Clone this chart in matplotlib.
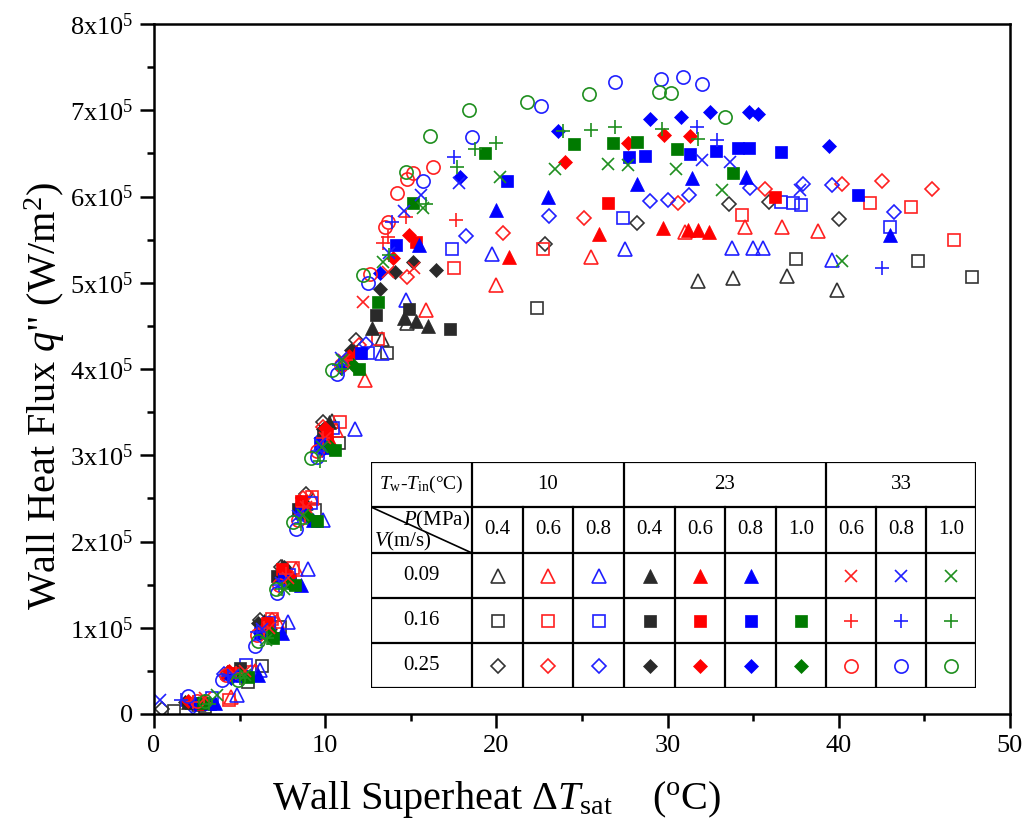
"""Boiling curves: wall heat flux vs wall superheat, with condition table."""

import numpy as np
import matplotlib
matplotlib.use("Agg")
import matplotlib.pyplot as plt
from matplotlib.ticker import MultipleLocator, FuncFormatter

plt.rcParams["font.family"] = ["Liberation Serif", "DejaVu Serif"]
plt.rcParams["mathtext.fontset"] = "custom"
plt.rcParams["mathtext.rm"] = "Liberation Serif"
plt.rcParams["mathtext.it"] = "Liberation Serif:italic"

# ── Data: (wall superheat [°C], heat flux [x1e5 W/m2]) ────────────
# Tw-Tin = 10 °C
s10_p04_v009 = [(2.6, 0.12), (5.2, 0.50), (6.8, 1.05), (7.9, 1.65), (8.9, 2.45), (10.4, 3.40),
                (13.3, 4.35), (14.8, 4.53), (31.75, 5.02), (33.8, 5.05), (37.0, 5.08), (39.9, 4.92)]
s10_p06_v009 = [(4.5, 0.20), (5.9, 0.50), (7.2, 1.08), (8.3, 1.68), (9.2, 2.50), (10.65, 3.29),
                (12.35, 3.87), (15.9, 4.68), (20.0, 4.97), (25.5, 5.30), (31.0, 5.59), (34.5, 5.65),
                (36.7, 5.65), (38.8, 5.60)]
s10_p08_v009 = [(4.85, 0.22), (6.2, 0.51), (7.8, 1.07), (9.0, 1.68), (9.9, 2.25), (11.75, 3.30),
                (13.3, 4.19), (14.7, 4.80), (19.75, 5.33), (27.5, 5.39), (33.75, 5.40), (35.0, 5.40),
                (35.6, 5.40), (39.6, 5.26)]
s10_p04_v016 = [(1.15, 0.03), (2.95, 0.08), (5.5, 0.37), (6.3, 0.56), (7.35, 1.01), (7.95, 1.55),
                (9.4, 2.37), (10.8, 3.14), (13.6, 4.19), (22.35, 4.71), (37.5, 5.28), (44.6, 5.25),
                (47.8, 5.07)]
s10_p06_v016 = [(4.4, 0.16), (5.7, 0.49), (6.9, 1.10), (8.1, 1.69), (9.25, 2.52), (10.85, 3.39),
                (13.1, 4.35), (17.55, 5.17), (22.7, 5.39), (34.35, 5.78), (41.8, 5.92), (44.2, 5.88),
                (46.7, 5.50)]
s10_p08_v016 = [(3.4, 0.18), (5.4, 0.57), (6.7, 1.05), (7.9, 1.61), (9.15, 2.45), (10.45, 3.32),
                (12.5, 4.19), (17.4, 5.39), (27.4, 5.75), (36.6, 5.94), (37.3, 5.92), (37.8, 5.90),
                (43.0, 5.65)]
s10_p04_v025 = [(0.47, 0.06), (4.3, 0.48), (6.2, 1.09), (7.4, 1.70), (8.85, 2.55), (9.9, 3.38),
                (11.8, 4.34), (22.85, 5.45), (28.2, 5.69), (33.6, 5.91), (35.9, 5.94), (40.0, 5.74)]
s10_p06_v025 = [(4.6, 0.45), (6.9, 1.09), (7.7, 1.65), (8.7, 2.50), (9.9, 3.33), (12.0, 4.28),
                (14.75, 5.07), (20.4, 5.58), (25.1, 5.75), (30.6, 5.92), (35.7, 6.09), (40.2, 6.15),
                (42.5, 6.18), (45.45, 6.09)]
s10_p08_v025 = [(2.3, 0.08), (4.1, 0.46), (6.5, 1.00), (7.6, 1.55), (8.9, 2.30), (9.8, 3.20),
                (12.4, 4.29), (18.2, 5.54), (23.1, 5.77), (29.0, 5.95), (30.0, 5.96), (31.25, 6.02),
                (34.8, 6.10), (37.9, 6.15), (39.6, 6.13), (43.2, 5.82)]

# Tw-Tin = 23 °C
s23_p04_v009 = [(2.0, 0.14), (4.9, 0.50), (6.4, 1.08), (7.5, 1.72), (8.5, 2.45), (10.25, 3.39),
                (12.75, 4.47), (14.6, 4.59), (15.3, 4.56), (16.0, 4.50)]
s23_p06_v009 = [(4.25, 0.49), (6.5, 1.05), (7.6, 1.65), (8.6, 2.40), (10.2, 3.20), (11.8, 4.20),
                (20.75, 5.30), (26.0, 5.57), (29.75, 5.63), (31.2, 5.61), (31.75, 5.61), (32.4, 5.59)]
s23_p08_v009 = [(3.55, 0.13), (6.05, 0.45), (7.5, 0.94), (8.6, 1.50), (9.3, 2.25), (10.0, 3.10),
                (15.5, 5.44), (20.0, 5.84), (23.0, 6.00), (28.2, 6.15), (31.45, 6.21), (34.6, 6.23),
                (43.0, 5.55)]
s23_p04_v016 = [(2.2, 0.13), (5.0, 0.53), (6.3, 1.02), (7.2, 1.60), (8.4, 2.38), (9.86, 3.23),
                (12.95, 4.63), (14.9, 4.70), (17.3, 4.46)]
s23_p06_v016 = [(2.6, 0.12), (4.6, 0.47), (6.6, 1.06), (7.5, 1.68), (8.6, 2.47), (10.1, 3.25),
                (15.3, 5.47), (26.5, 5.92), (36.3, 6.00)]
s23_p08_v016 = [(3.3, 0.12), (5.1, 0.44), (6.2, 0.94), (7.6, 1.57), (8.6, 2.33), (9.7, 3.14),
                (12.1, 4.19), (14.15, 5.44), (20.6, 6.18), (27.75, 6.46), (28.7, 6.47), (31.3, 6.49),
                (32.8, 6.53), (34.1, 6.56), (34.75, 6.56), (36.6, 6.52), (41.1, 6.02)]
s23_p10_v016 = [(2.85, 0.13), (5.5, 0.43), (6.95, 0.88), (8.25, 1.50), (9.5, 2.24), (10.6, 3.06),
                (12.0, 4.00), (13.1, 4.78), (15.15, 5.92), (19.35, 6.50), (24.55, 6.61), (26.8, 6.62),
                (28.2, 6.63), (30.55, 6.55), (33.8, 6.27)]
s23_p04_v025 = [(1.8, 0.14), (4.8, 0.48), (6.1, 1.05), (7.6, 1.70), (8.5, 2.42), (9.9, 3.30),
                (11.5, 4.22), (13.2, 4.93), (14.1, 5.13), (15.1, 5.24), (16.5, 5.15)]
s23_p06_v025 = [(2.0, 0.15), (4.4, 0.50), (6.6, 1.02), (7.9, 1.60), (8.8, 2.40), (9.97, 3.32),
                (11.4, 4.15), (13.95, 5.29), (14.9, 5.55), (24.0, 6.40), (27.7, 6.62), (29.8, 6.71),
                (31.3, 6.70)]
s23_p08_v025 = [(2.4, 0.12), (4.5, 0.42), (6.2, 0.94), (7.5, 1.55), (8.6, 2.33), (9.8, 3.06),
                (10.95, 4.01), (13.2, 5.11), (17.9, 6.23), (23.6, 6.76), (29.0, 6.90), (30.8, 6.92),
                (32.5, 6.98), (34.75, 6.98), (35.3, 6.96), (39.4, 6.59)]
s23_p10_v025 = [(2.9, 0.15), (5.2, 0.45), (6.8, 0.95), (7.9, 1.52), (9.0, 2.30), (10.3, 3.10),
                (11.6, 4.05)]

# Tw-Tin = 33 °C
s33_p06_v009 = [(3.0, 0.18), (5.3, 0.50), (6.7, 1.00), (7.8, 1.58), (8.9, 2.40), (10.0, 3.20),
                (11.1, 4.10), (12.2, 4.78), (13.65, 5.13), (15.2, 5.17)]
s33_p08_v009 = [(0.34, 0.16), (4.6, 0.45), (6.3, 0.98), (7.4, 1.52), (8.4, 2.30), (9.67, 3.13),
                (10.95, 4.13), (13.75, 5.34), (14.6, 5.83), (15.6, 6.02), (17.8, 6.16), (32.0, 6.42),
                (33.65, 6.40), (37.75, 6.07)]
s33_p10_v009 = [(3.7, 0.22), (5.3, 0.45), (6.55, 0.86), (7.6, 1.45), (8.7, 2.31), (9.8, 3.10),
                (11.0, 4.10), (13.35, 5.24), (15.7, 5.87), (20.2, 6.23), (23.4, 6.32), (26.5, 6.38),
                (27.7, 6.37), (30.5, 6.32), (33.2, 6.07), (40.2, 5.25)]
s33_p06_v016 = [(2.3, 0.14), (4.8, 0.48), (6.4, 1.00), (7.7, 1.62), (8.7, 2.40), (9.9, 3.20),
                (11.2, 4.10), (13.4, 5.46), (13.65, 5.53), (14.7, 5.76), (17.65, 5.73)]
s33_p08_v016 = [(1.6, 0.16), (4.3, 0.44), (6.0, 0.95), (7.3, 1.50), (8.4, 2.30), (9.6, 3.05),
                (10.8, 4.05), (13.9, 5.70), (17.5, 6.46), (31.7, 6.80), (32.9, 6.65), (42.5, 5.17)]
s33_p10_v016 = [(3.2, 0.12), (5.0, 0.42), (6.6, 0.88), (7.5, 1.45), (8.6, 2.20), (9.7, 2.93),
                (11.0, 4.00), (13.75, 5.32), (15.9, 5.91), (17.7, 6.34), (18.75, 6.55), (20.0, 6.62),
                (23.9, 6.76), (25.5, 6.77), (26.9, 6.80), (29.7, 6.78), (31.8, 6.67)]
s33_p06_v025 = [(2.5, 0.15), (4.2, 0.45), (6.0, 0.92), (7.3, 1.50), (8.4, 2.25), (9.5, 3.05),
                (10.9, 4.05), (12.6, 5.10), (13.5, 5.65), (13.65, 5.70), (14.2, 6.04), (14.8, 6.20),
                (15.1, 6.27), (16.3, 6.34)]
s33_p08_v025 = [(2.0, 0.21), (3.95, 0.40), (5.9, 0.79), (7.2, 1.40), (8.3, 2.14), (9.5, 2.98),
                (10.7, 3.94), (12.5, 5.00), (15.7, 6.18), (18.6, 6.69), (22.6, 7.05), (26.9, 7.33),
                (29.6, 7.36), (30.9, 7.39), (32.0, 7.30)]
s33_p10_v025 = [(3.0, 0.15), (4.9, 0.40), (6.1, 0.85), (7.1, 1.45), (8.1, 2.23), (9.15, 2.97),
                (10.4, 3.99), (12.2, 5.09), (14.7, 6.28), (16.1, 6.70), (18.4, 7.00), (21.8, 7.10),
                (25.4, 7.19), (29.5, 7.21), (30.2, 7.20), (33.35, 6.92)]

# Table labels
tw_groups = ["10", "23", "33"]
pressures = ["0.4", "0.6", "0.8", "0.4", "0.6", "0.8", "1.0", "0.6", "0.8", "1.0"]
velocities = ["0.09", "0.16", "0.25"]

# grid[col][row] -> series (col = Tw-Tin/P combination, row = velocity)
grid = [
    [s10_p04_v009, s10_p04_v016, s10_p04_v025],
    [s10_p06_v009, s10_p06_v016, s10_p06_v025],
    [s10_p08_v009, s10_p08_v016, s10_p08_v025],
    [s23_p04_v009, s23_p04_v016, s23_p04_v025],
    [s23_p06_v009, s23_p06_v016, s23_p06_v025],
    [s23_p08_v009, s23_p08_v016, s23_p08_v025],
    [None, s23_p10_v016, s23_p10_v025],
    [s33_p06_v009, s33_p06_v016, s33_p06_v025],
    [s33_p08_v009, s33_p08_v016, s33_p08_v025],
    [s33_p10_v009, s33_p10_v016, s33_p10_v025],
]

# ── Styles ───────────────────────────────────────────────────
col_colors = ["#333333", "#ff2020", "#2020ff", "#2a2a2a", "#ff0000", "#0000ff", "#007a00",
              "#ff2020", "#2020ff", "#1f8f1f"]
col_kind = ["open"] * 3 + ["filled"] * 4 + ["line"] * 3
markers = {"open": ["^", "s", "D"], "filled": ["^", "s", "D"], "line": ["x", "+", "o"]}
msizes = {"^": 10, "s": 8.5, "D": 7, "x": 9, "+": 10, "o": 9.5}


def style(ci, ri):
    kind = col_kind[ci]
    m = markers[kind][ri]
    c = col_colors[ci]
    kw = dict(marker=m, ms=msizes[m], ls="none", color=c, mew=1.2)
    if kind == "open" or m == "o":
        kw["mfc"] = "none"
    elif kind == "filled":
        kw["mfc"] = c
        kw["mew"] = 0.5
    return kw


fig = plt.figure(figsize=(10.24, 8.34), dpi=100)
ax = fig.add_axes([154 / 1024, 1 - 714 / 834, (1010 - 154) / 1024, (714 - 24) / 834])

for ci, col in enumerate(grid):
    for ri, pts in enumerate(col):
        if pts is None:
            continue
        arr = np.array(pts)
        ax.plot(arr[:, 0], arr[:, 1] * 1e5, **style(ci, ri))

ax.set_xlim(0, 50)
ax.set_ylim(0, 8e5)
ax.xaxis.set_major_locator(MultipleLocator(10))
ax.xaxis.set_minor_locator(MultipleLocator(5))
ax.yaxis.set_major_locator(MultipleLocator(1e5))
ax.yaxis.set_minor_locator(MultipleLocator(0.5e5))
ax.yaxis.set_major_formatter(FuncFormatter(
    lambda v, p: "0" if v == 0 else f"{int(round(v / 1e5))}x10$^5$"))
ax.tick_params(which="major", direction="out", length=10, width=1.8, labelsize=19, pad=5)
ax.tick_params(which="minor", direction="out", length=5, width=1.8)
for sp in ax.spines.values():
    sp.set_linewidth(1.8)

fig.text(497 / 1024, 1 - 800 / 834, "Wall Superheat Δ$T_{\\rm sat}$    ($^{\\rm o}$C)",
         ha="center", va="center", fontsize=29)
fig.text(45 / 1024, 1 - 396 / 834, "Wall Heat Flux $q$\" (W/m$^2$)",
         ha="center", va="center", rotation=90, fontsize=29)

# ── Condition table ─────────────────────────────────────────
tx = [371, 472, 523, 573, 624, 675, 725, 776, 826, 876, 926, 976]
ty = [462, 507, 553, 598, 643, 688]
tab = fig.add_axes([tx[0] / 1024, 1 - ty[-1] / 834, (tx[-1] - tx[0]) / 1024, (ty[-1] - ty[0]) / 834])
tab.set_xlim(tx[0], tx[-1])
tab.set_ylim(ty[-1], ty[0])
tab.axis("off")
tab.add_patch(plt.Rectangle((tx[0], ty[0]), tx[-1] - tx[0], ty[-1] - ty[0],
                            fc="white", ec="black", lw=1.6, zorder=0))
lw = 1.6
for y in ty[1:-1]:
    tab.plot([tx[0], tx[-1]], [y, y], color="black", lw=lw)
for i, x in enumerate(tx[1:-1], start=1):
    y0 = ty[0] if i in (1, 4, 8) else ty[1]
    tab.plot([x, x], [y0, ty[-1]], color="black", lw=lw)
tab.plot([tx[0], tx[1]], [ty[1], ty[2]], color="black", lw=1.2)

fs = 15
tab.text((tx[0] + tx[1]) / 2, (ty[0] + ty[1]) / 2, "$T_{\\rm w}$-$T_{\\rm in}$(°C)",
         ha="center", va="center", fontsize=fs - 1)
spans = [(1, 4), (4, 8), (8, 11)]
for lab, (a, b) in zip(tw_groups, spans):
    tab.text((tx[a] + tx[b]) / 2, (ty[0] + ty[1]) / 2, lab, ha="center", va="center", fontsize=fs)
tab.text(tx[1] - 2, ty[1] + 13, "$P$(MPa)", ha="right", va="center", fontsize=fs)
tab.text(tx[0] + 3, ty[2] - 12, "$V$(m/s)", ha="left", va="center", fontsize=fs)
for ci, lab in enumerate(pressures):
    tab.text((tx[ci + 1] + tx[ci + 2]) / 2, (ty[1] + ty[2]) / 2, lab,
             ha="center", va="center", fontsize=fs)
for ri, lab in enumerate(velocities):
    yc = (ty[ri + 2] + ty[ri + 3]) / 2
    tab.text((tx[0] + tx[1]) / 2, yc, lab, ha="center", va="center", fontsize=fs)
    for ci, col in enumerate(grid):
        if col[ri] is None:
            continue
        tab.plot([(tx[ci + 1] + tx[ci + 2]) / 2], [yc], **style(ci, ri))

fig.savefig("out.png", dpi=100)
